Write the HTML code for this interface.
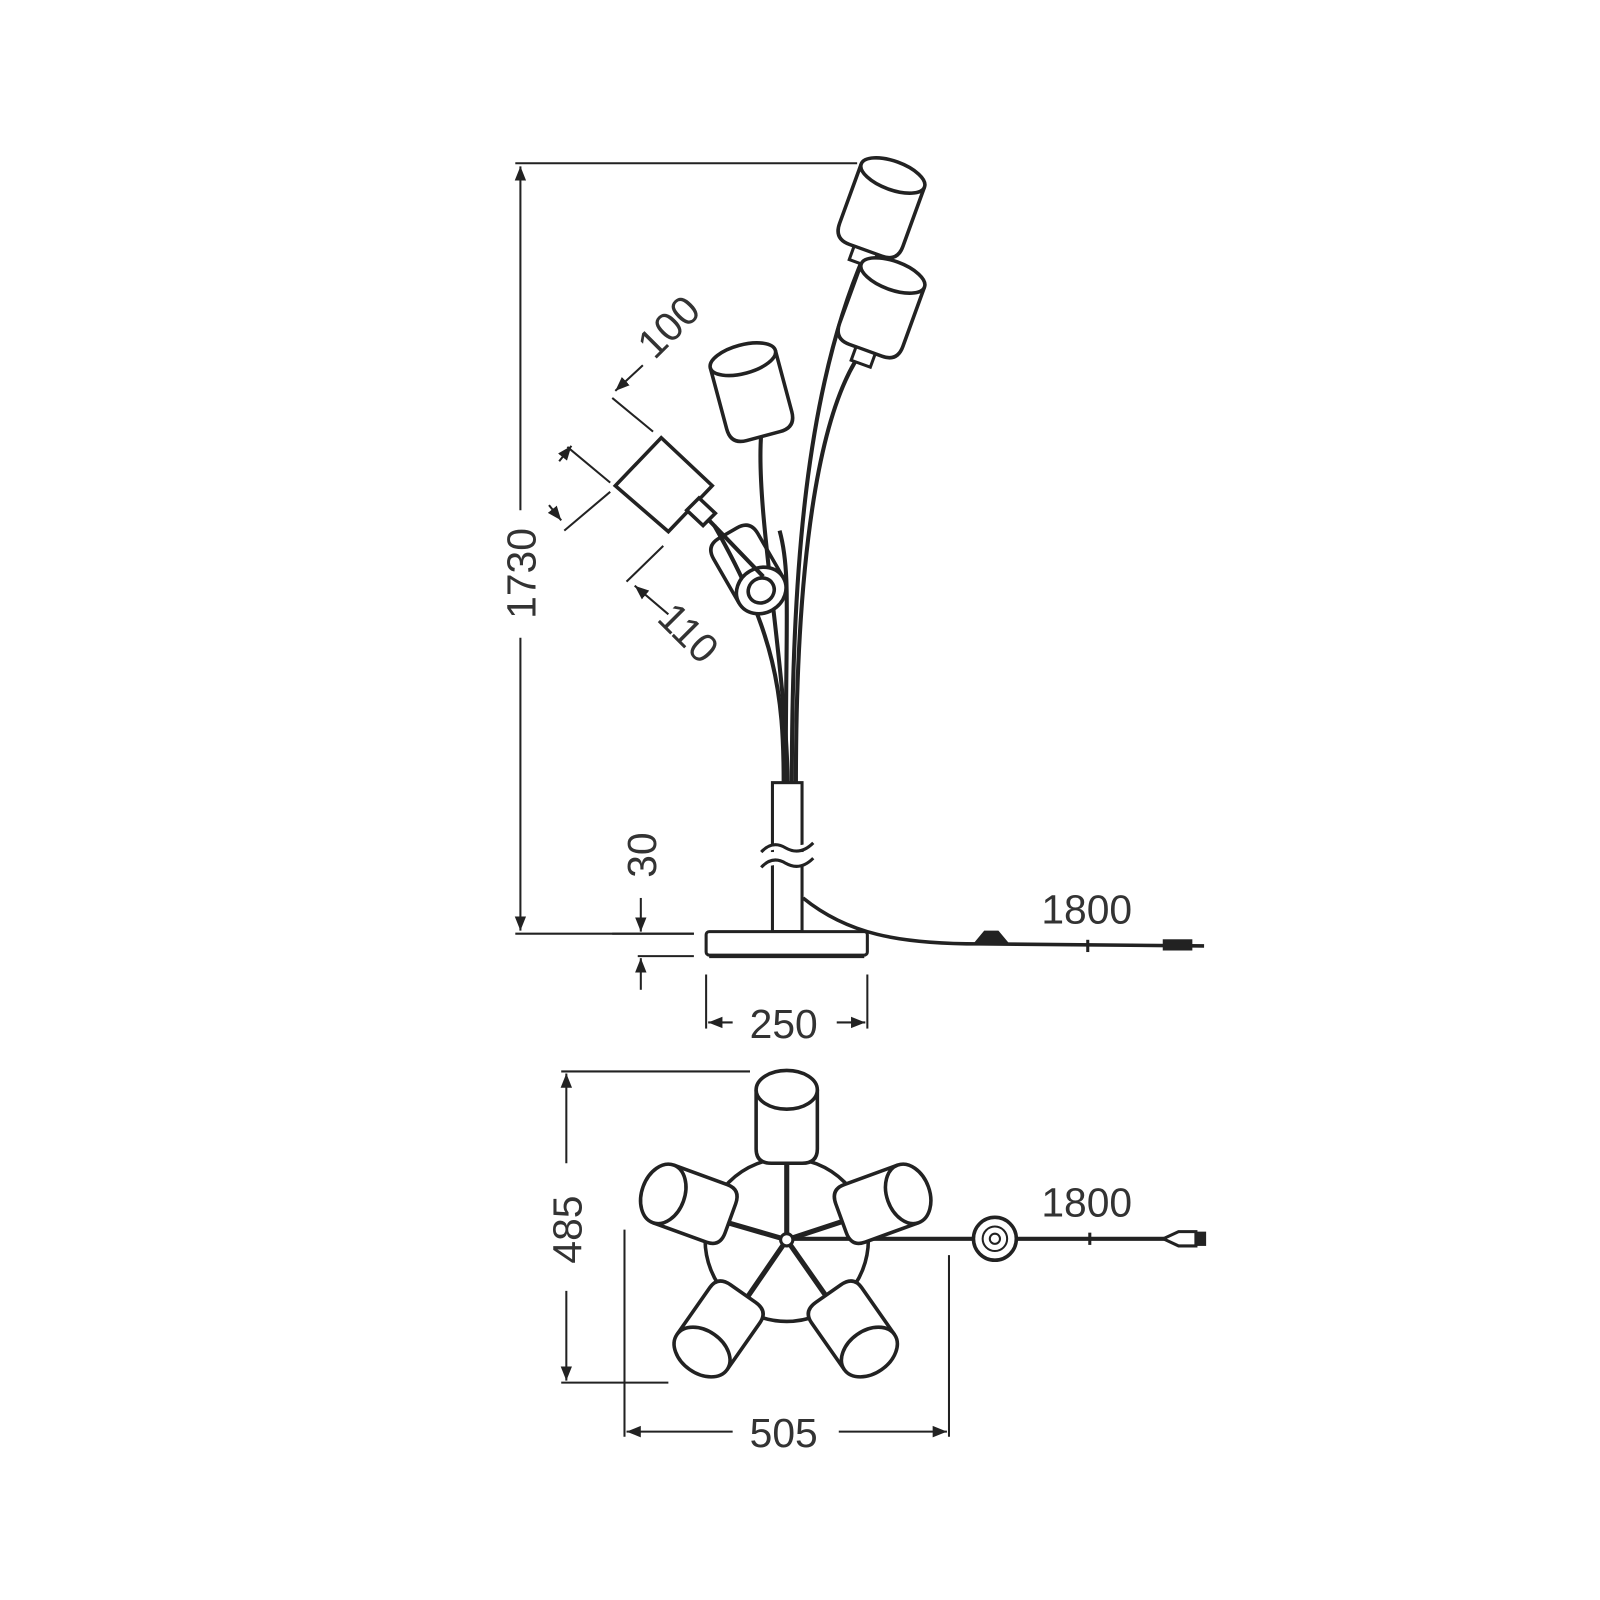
<!DOCTYPE html>
<html><head><style>html,body{margin:0;padding:0;background:#fff}svg{display:block}</style></head>
<body>
<svg width="1600" height="1600" viewBox="0 0 1568 1568" xmlns="http://www.w3.org/2000/svg" font-family="Liberation Sans, sans-serif" fill="none" stroke="#222">
<defs>
<marker id="a" viewBox="0 0 10 10" refX="10" refY="5" markerWidth="7" markerHeight="7" orient="auto-start-reverse"><path d="M0,1 L10,5 L0,9 z" fill="#222" stroke="none"/></marker>
<g id="cyl"><path d="M-33,0 L-33,62 Q-33,78 -17,78 L17,78 Q33,78 33,62 L33,0" stroke-width="3.5" fill="#fff"/><ellipse cx="0" cy="0" rx="33" ry="14" stroke-width="3.5" fill="#fff"/></g>
<g id="tv"><path d="M-30,0 L-30,56 Q-30,70 -15,70 L15,70 Q30,70 30,56 L30,0" stroke-width="3.5" fill="#fff"/><ellipse cx="0" cy="0" rx="30" ry="21" stroke-width="3.5" fill="#fff"/></g>
</defs>

<!-- 1730 dimension -->
<g stroke-width="2">
<line x1="505" y1="160" x2="840" y2="160"/>
<line x1="505" y1="915" x2="680" y2="915"/>
<line x1="510" y1="500" x2="510" y2="163" marker-end="url(#a)"/>
<line x1="510" y1="625" x2="510" y2="912" marker-end="url(#a)"/>
</g>
<text x="0" y="0" transform="translate(525,562) rotate(-90)" font-size="40" fill="#333" stroke="none" text-anchor="middle">1730</text>

<!-- stems -->
<g stroke-width="4">
<path d="M772,767 C770,650 740,500 746,425"/>
<path d="M776,767 C776,560 790,380 848,248"/>
<path d="M780,767 C780,560 800,400 848,340"/>
<path d="M768,767 C768,680 760,620 700,515"/>
<path d="M770,767 C770,600 775,560 764,520"/>
</g>
<!-- shades -->
<g transform="translate(875,172) rotate(20)"><use href="#cyl"/><rect x="-12" y="78" width="24" height="14" stroke-width="3" fill="#fff"/></g>
<g transform="translate(875,270) rotate(20)"><use href="#cyl"/><rect x="-10" y="78" width="20" height="14" stroke-width="3" fill="#fff"/></g>
<g transform="translate(728,352) rotate(-15)"><use href="#cyl"/></g>
<g transform="translate(741,570) rotate(-30)" stroke-width="3.5"><path d="M-25,10 L-25,-40 Q-25,-55 -10,-55 L10,-55 Q25,-55 25,-40 L25,10"/><ellipse cx="0" cy="10" rx="25" ry="22" fill="#fff"/><ellipse cx="0" cy="10" rx="13" ry="12"/></g>
<!-- tilted dimension box -->
<g stroke-width="3.5" fill="#fff">
<polygon points="603,476 648,429 698,476 655,521"/>
<polygon points="673,500 685,488 701,503 689,515"/>
</g>
<line x1="695" y1="510" x2="748" y2="565" stroke-width="4"/>
<g stroke-width="2">
<line x1="600" y1="390" x2="640" y2="423"/>
<line x1="556" y1="438" x2="598" y2="473"/>
<line x1="553" y1="520" x2="598" y2="482"/>
<line x1="614" y1="570" x2="650" y2="535"/>
<line x1="548" y1="452" x2="560" y2="437" marker-end="url(#a)"/>
<line x1="538" y1="495" x2="550" y2="510" marker-end="url(#a)"/>
<line x1="630" y1="358" x2="603" y2="383" marker-end="url(#a)"/>
<line x1="655" y1="602" x2="622" y2="574" marker-end="url(#a)"/>
</g>
<text transform="translate(665,330) rotate(-45)" font-size="40" fill="#333" stroke="none" text-anchor="middle">100</text>
<text transform="translate(665,630) rotate(45)" font-size="40" fill="#333" stroke="none" text-anchor="middle">110</text>

<!-- pole and base -->
<rect x="757" y="767" width="29" height="146" fill="#fff" stroke-width="3"/>
<g stroke-width="3" fill="#fff">
<rect x="745" y="835" width="55" height="12" fill="#fff" stroke="none"/>
<path d="M746,835 Q757,823 770,831 Q784,839 797,826"/>
<path d="M746,850 Q757,838 770,846 Q784,854 797,841"/>
</g>
<rect x="692" y="913" width="158" height="23" rx="3" fill="#fff" stroke-width="3"/>
<line x1="695" y1="937" x2="847" y2="937" stroke-width="4"/>
<path d="M787,880 C830,915 880,925 960,925 L1180,927" stroke-width="3.5"/>
<path d="M955,925 L965,913 L978,913 L988,925 z" fill="#222" stroke-width="2"/>
<rect x="1140" y="921" width="28" height="10" fill="#222" stroke-width="1"/>
<line x1="1066" y1="921" x2="1066" y2="933" stroke-width="3"/>
<text x="1065" y="905" font-size="40" fill="#333" stroke="none" text-anchor="middle">1800</text>

<!-- 30 -->
<g stroke-width="2">
<line x1="600" y1="915" x2="680" y2="915"/>
<line x1="625" y1="937" x2="680" y2="937"/>
<line x1="628" y1="880" x2="628" y2="913" marker-end="url(#a)"/>
<line x1="628" y1="970" x2="628" y2="939" marker-end="url(#a)"/>
</g>
<text transform="translate(643,838) rotate(-90)" font-size="40" fill="#333" stroke="none" text-anchor="middle">30</text>

<!-- 250 -->
<g stroke-width="2">
<line x1="692" y1="955" x2="692" y2="1008"/>
<line x1="850" y1="955" x2="850" y2="1008"/>
<line x1="718" y1="1002" x2="694" y2="1002" marker-end="url(#a)"/>
<line x1="820" y1="1002" x2="848" y2="1002" marker-end="url(#a)"/>
</g>
<text x="768" y="1017" font-size="40" fill="#333" stroke="none" text-anchor="middle">250</text>

<!-- top view -->
<g stroke-width="2">
<line x1="550" y1="1050" x2="735" y2="1050"/>
<line x1="550" y1="1355" x2="655" y2="1355"/>
<line x1="555" y1="1140" x2="555" y2="1052" marker-end="url(#a)"/>
<line x1="555" y1="1265" x2="555" y2="1353" marker-end="url(#a)"/>
<line x1="612" y1="1205" x2="612" y2="1408"/>
<line x1="930" y1="1230" x2="930" y2="1408"/>
<line x1="718" y1="1403" x2="614" y2="1403" marker-end="url(#a)"/>
<line x1="822" y1="1403" x2="928" y2="1403" marker-end="url(#a)"/>
</g>
<text transform="translate(570,1205) rotate(-90)" font-size="40" fill="#333" stroke="none" text-anchor="middle">485</text>
<text x="768" y="1418" font-size="40" fill="#333" stroke="none" text-anchor="middle">505</text>

<circle cx="771" cy="1215" r="80" stroke-width="3.5"/>
<g stroke-width="5">
<line x1="771" y1="1215" x2="771" y2="1135"/>
<line x1="771" y1="1215" x2="695" y2="1193"/>
<line x1="771" y1="1215" x2="838" y2="1193"/>
<line x1="771" y1="1215" x2="723" y2="1285"/>
<line x1="771" y1="1215" x2="820" y2="1285"/>
</g>
<line x1="771" y1="1214" x2="1180" y2="1214" stroke-width="4"/>
<circle cx="771" cy="1215" r="6" fill="#fff" stroke-width="3"/>
<g transform="translate(771,1068)"><path d="M-30,0 L-30,58 Q-30,72 -15,72 L15,72 Q30,72 30,58 L30,0" stroke-width="3.5" fill="#fff"/><ellipse cx="0" cy="0" rx="30" ry="19" stroke-width="3.5" fill="#fff"/></g>
<g transform="translate(650,1170) rotate(-70)"><use href="#tv"/></g>
<g transform="translate(890,1170) rotate(70)"><use href="#tv"/></g>
<g transform="translate(688,1325) rotate(-145)"><use href="#tv"/></g>
<g transform="translate(852,1325) rotate(145)"><use href="#tv"/></g>
<circle cx="975" cy="1214" r="21" fill="#fff" stroke-width="3.5"/>
<circle cx="975" cy="1214" r="12" stroke-width="2"/>
<circle cx="975" cy="1214" r="5" stroke-width="2"/>
<line x1="1068" y1="1208" x2="1068" y2="1220" stroke-width="3"/>
<path d="M1140,1214 L1155,1207 L1172,1207 L1172,1221 L1155,1221 z" fill="#fff" stroke-width="3"/>
<rect x="1172" y="1207" width="10" height="14" fill="#222" stroke="none"/>
<text x="1065" y="1192" font-size="40" fill="#333" stroke="none" text-anchor="middle">1800</text>
</svg>
</body></html>
